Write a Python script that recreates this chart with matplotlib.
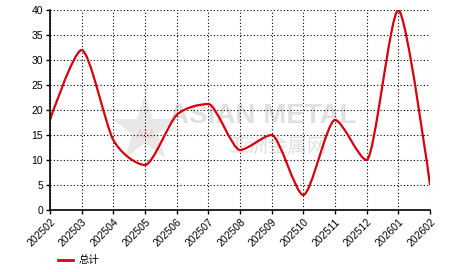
import numpy as np
import matplotlib.pyplot as plt
from matplotlib.path import Path
from matplotlib.patches import PathPatch

plt.rcParams['font.family'] = ['Liberation Sans', 'Noto Sans CJK SC', 'DejaVu Sans']

# Monthly totals
months = ["202502", "202503", "202504", "202505", "202506", "202507", "202508",
          "202509", "202510", "202511", "202512", "202601", "202602"]
totals = [18, 32, 14, 9, 19, 21.2, 12, 15, 3, 18, 10, 40, 5]
series_name = "总计"
line_color = "#d7000f"


def spline_path(xs, ys, smoothing=3.0):
    # spline built from bezier segments, control points close to each point
    denom = smoothing + 1
    n = len(xs)
    verts = [(xs[0], ys[0])]
    codes = [Path.MOVETO]
    ctrl = []
    for i in range(n):
        if i == 0 or i == n - 1:
            ctrl.append(((xs[i], ys[i]), (xs[i], ys[i])))
            continue
        lx = (smoothing * xs[i] + xs[i - 1]) / denom
        ly = (smoothing * ys[i] + ys[i - 1]) / denom
        rx = (smoothing * xs[i] + xs[i + 1]) / denom
        ry = (smoothing * ys[i] + ys[i + 1]) / denom
        corr = ((ry - ly) * (rx - xs[i])) / (rx - lx) + ys[i] - ry
        ly += corr
        ry += corr
        if ly > ys[i - 1] and ly > ys[i]:
            ly = max(ys[i - 1], ys[i])
            ry = 2 * ys[i] - ly
        elif ly < ys[i - 1] and ly < ys[i]:
            ly = min(ys[i - 1], ys[i])
            ry = 2 * ys[i] - ly
        if ry > ys[i + 1] and ry > ys[i]:
            ry = max(ys[i + 1], ys[i])
            ly = 2 * ys[i] - ry
        elif ry < ys[i + 1] and ry < ys[i]:
            ry = min(ys[i + 1], ys[i])
            ly = 2 * ys[i] - ry
        ctrl.append(((lx, ly), (rx, ry)))
    for i in range(1, n):
        verts += [ctrl[i - 1][1], ctrl[i][0], (xs[i], ys[i])]
        codes += [Path.CURVE4] * 3
    return Path(verts, codes)


fig = plt.figure(figsize=(4.66, 2.72), dpi=100)
ax = fig.add_axes([50 / 466, 62 / 272, 380 / 466, 200 / 272])

x = np.arange(len(months))
ax.plot(x, totals, color="none")
patch = PathPatch(spline_path(list(x), totals), facecolor="none",
                  edgecolor=line_color, lw=1.6, transform=ax.transData)
ax.add_patch(patch)

ax.set_xlim(0, len(months) - 1)
ax.set_ylim(0, 40)
ax.set_yticks(range(0, 41, 5))
ax.set_xticks(x)
ax.set_xticklabels(months, rotation=45, ha="right", rotation_mode="anchor")
ax.tick_params(labelsize=7.5, length=3, width=1, pad=2)
ax.grid(True, color="black", linestyle=(0, (1, 2)), linewidth=0.8)
ax.set_axisbelow(True)
for s in ["top", "right"]:
    ax.spines[s].set_visible(False)
for s in ["left", "bottom"]:
    ax.spines[s].set_linewidth(1.2)

# watermark
ax.text(0.56, 0.47, "ASIAN METAL", transform=ax.transAxes, fontsize=20,
        fontweight="bold", color="#d9d9d9", alpha=0.8, ha="center", va="center", zorder=0)
ax.text(0.6, 0.32, "亚洲金属网", transform=ax.transAxes, fontsize=14,
        family=["Noto Sans CJK SC"], color="#d9d9d9", alpha=0.8,
        ha="center", va="center", zorder=0)
ax.plot([3], [16], marker="*", markersize=50, color="#e3e3e3", alpha=0.8,
        zorder=0, markeredgewidth=0)
ax.text(3, 15, "AM", fontsize=9, color="#f7c5c5", ha="center", va="center", zorder=0)

# legend
fig.lines.append(plt.Line2D([58 / 466, 73 / 466], [1 - 260 / 272] * 2,
                            color=line_color, lw=2, transform=fig.transFigure))
fig.text(79 / 466, 1 - 260 / 272, series_name, fontsize=7.5, va="center",
         family=["Noto Sans CJK SC"])

fig.savefig("out.png", dpi=100)
